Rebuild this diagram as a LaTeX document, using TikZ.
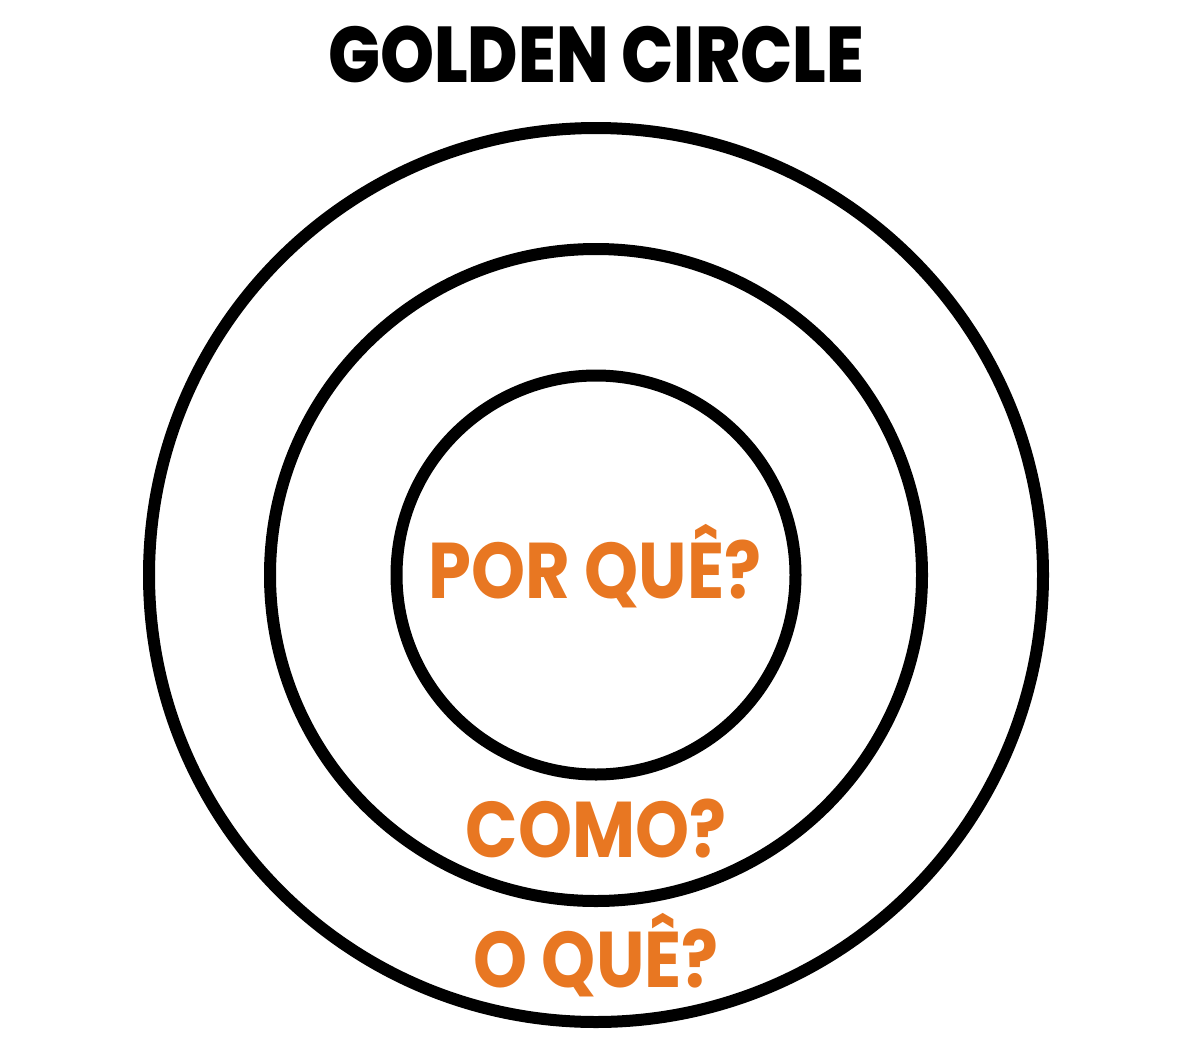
\documentclass[tikz,border=0pt]{standalone}
\usepackage{fontspec}
\setmainfont{Poppins}[FakeStretch=0.87,BoldFont={Poppins ExtraBold}]
\newfontfamily\questionfont{Poppins Bold}[FakeStretch=0.87]
\usetikzlibrary{positioning}
\definecolor{questionorange}{RGB}{232,119,34}
\tikzset{ring/.style={draw,circle,line width=12pt,inner sep=0pt}}
\tikzset{heading/.style={font=\fontsize{79}{79}\selectfont\bfseries,
                         anchor=base,inner sep=0pt}}
\tikzset{question/.style={heading,text=questionorange,
                          font=\fontsize{79}{79}\questionfont}}

\begin{document}
\begin{tikzpicture}[x=1pt,y=-1pt]
    \useasboundingbox (0,0) rectangle (1201,1052);
    % Draw the three rings, outer to inner
    \foreach \r/\name in {447/what,326/how,199.5/why}{%
        \node[ring,minimum size=2*\r*1pt] (\name) at (596,575) {};
      }
    % Title
    \node[heading] (title) at (596,82) {GOLDEN CIRCLE};
    % Questions
    \node[question] (why_label) at (595,598) {POR QUÊ?};
    \node[question] (how_label) at (596,857) {COMO?};
    \node[question] (what_label) at (596,987) {O QUÊ?};
\end{tikzpicture}
\end{document}
